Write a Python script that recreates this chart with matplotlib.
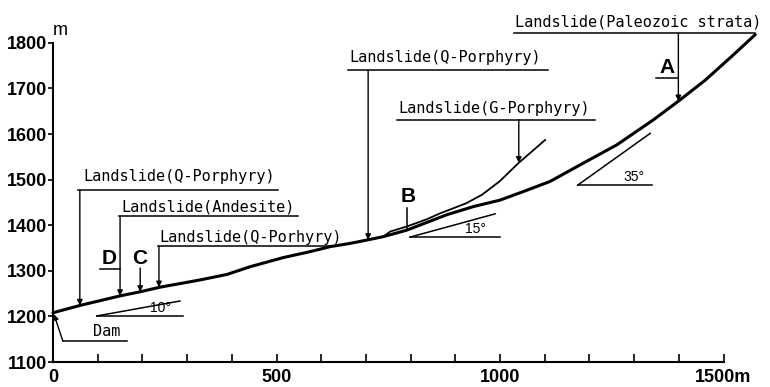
import numpy as np
import matplotlib.pyplot as plt

# ground profile (distance m, elevation m)
prof_x = [0, 60, 150, 195, 239, 329, 389, 441, 515, 575, 620, 664, 705, 739, 791,
          836, 881, 941, 1000, 1050, 1112, 1186, 1261, 1343, 1399, 1459, 1518, 1571]
prof_y = [1208, 1224, 1245, 1254, 1264, 1280, 1292, 1309, 1329, 1342, 1353, 1360,
          1368, 1375, 1389, 1406, 1423, 1441, 1455, 1473, 1496, 1536, 1576, 1631,
          1672, 1718, 1770, 1818]

# slide surface of the G-Porphyry landslide
slide_x = [739, 754, 791, 836, 866, 924, 960, 1000, 1041, 1101]
slide_y = [1375, 1386, 1397, 1413, 1426, 1448, 1467, 1497, 1536, 1587]

# landslide labels: text, text x, text y, underline y, underline end x, arrow x, arrow tip y
slides = [
    ("Landslide(Paleozoic strata)", 1034, 1846, 1821, 1571, 1399, 1672),
    ("Landslide(Q-Porphyry)", 664, 1767, 1740, 1107, 705, 1368),
    ("Landslide(G-Porphyry)", 772, 1657, 1631, 1213, 1042, 1537),
    ("Landslide(Q-Porphyry)", 67, 1506, 1477, 503, 60, 1224),
    ("Landslide(Andesite)", 152, 1440, 1420, 548, 150, 1245),
    ("Landslide(Q-Porhyry)", 237, 1374, 1354, 622, 237, 1264),
]

# slope angles (deg), base x, base y, horizontal length
angles = [10, 15, 35]
ang_x0 = [98, 799, 1174]
ang_y0 = [1201, 1374, 1488]
ang_len = [193, 201, 166]
ang_run = [186, 190, 162]

fig = plt.figure(figsize=(7.7, 3.87), dpi=100)
ax = fig.add_axes([0, 0, 1, 1])
ax.set_xlim(-118.6, 1604)
ax.set_ylim(1045.2, 1893.9)

for s in ["top", "right"]:
    ax.spines[s].set_visible(False)
ax.spines["left"].set_position(("data", 0))
ax.spines["bottom"].set_position(("data", 1100))
ax.spines["left"].set_bounds(1100, 1800)
ax.spines["bottom"].set_bounds(0, 1500)
ax.spines["left"].set_linewidth(1.5)
ax.spines["bottom"].set_linewidth(1.5)

ax.set_xticks(np.arange(0, 1501, 100), minor=True)
ax.set_xticks([0, 500, 1000, 1500])
ax.set_xticklabels(["0", "500", "1000", "1500m"])
ax.set_yticks(np.arange(1100, 1801, 100))
ax.tick_params(axis="x", which="both", direction="in", length=6, width=1.2, pad=5)
ax.tick_params(axis="y", direction="out", length=3.5, width=1.2, pad=0.5)
for lab in ax.get_xticklabels() + ax.get_yticklabels():
    lab.set_fontfamily("Liberation Sans")
    lab.set_fontweight("bold")
    lab.set_fontsize(13)
ax.text(16, 1826, "m", fontsize=13, fontfamily="Liberation Sans", ha="center", va="center")

ax.plot(prof_x, prof_y, color="black", lw=2.2, solid_capstyle="round")
ax.plot(slide_x, slide_y, color="black", lw=1.3)

mono = "DejaVu Sans Mono"
arrow = dict(arrowstyle="-|>", lw=1.0, color="black", mutation_scale=8, shrinkA=0, shrinkB=0)

for text, tx, ty, uy, ux, axx, tip in slides:
    ax.text(tx, ty, text, fontsize=11, fontfamily=mono, ha="left", va="center")
    ax.plot([min(tx, axx) - 3, ux], [uy, uy], color="black", lw=1.1)
    ax.annotate("", xy=(axx, tip), xytext=(axx, uy), arrowprops=arrow)

# letters
big = dict(fontsize=15, fontweight="bold", fontfamily="Liberation Sans", ha="center", va="center")
ax.text(1373, 1745, "A", **big)
ax.plot([1350, 1399], [1723, 1723], color="black", lw=1.1)
ax.text(794, 1462, "B", **big)
ax.plot([791, 791], [1437, 1389], color="black", lw=1.1)
ax.text(195, 1328, "C", **big)
ax.annotate("", xy=(195, 1254), xytext=(195, 1306), arrowprops=arrow)
ax.text(125, 1328, "D", **big)
ax.plot([105, 150], [1304, 1304], color="black", lw=1.1)

# dam
ax.text(120, 1150, "Dam", fontsize=11, fontfamily=mono, ha="center", va="bottom")
ax.plot([22, 166], [1146, 1146], color="black", lw=1.1)
ax.annotate("", xy=(2, 1205), xytext=(22, 1146), arrowprops=arrow)

# slope angle symbols
for a, x0, y0, L, run in zip(angles, ang_x0, ang_y0, ang_len, ang_run):
    ax.plot([x0, x0 + L], [y0, y0], color="black", lw=1.1)
    ax.plot([x0, x0 + run], [y0, y0 + run * np.tan(np.radians(a))], color="black", lw=1.1)
    ax.text(x0 + run * 0.77, y0 + 2, f"{a}°", fontsize=10, fontfamily="Liberation Sans",
            ha="center", va="bottom")

fig.savefig("out.png", dpi=100)
